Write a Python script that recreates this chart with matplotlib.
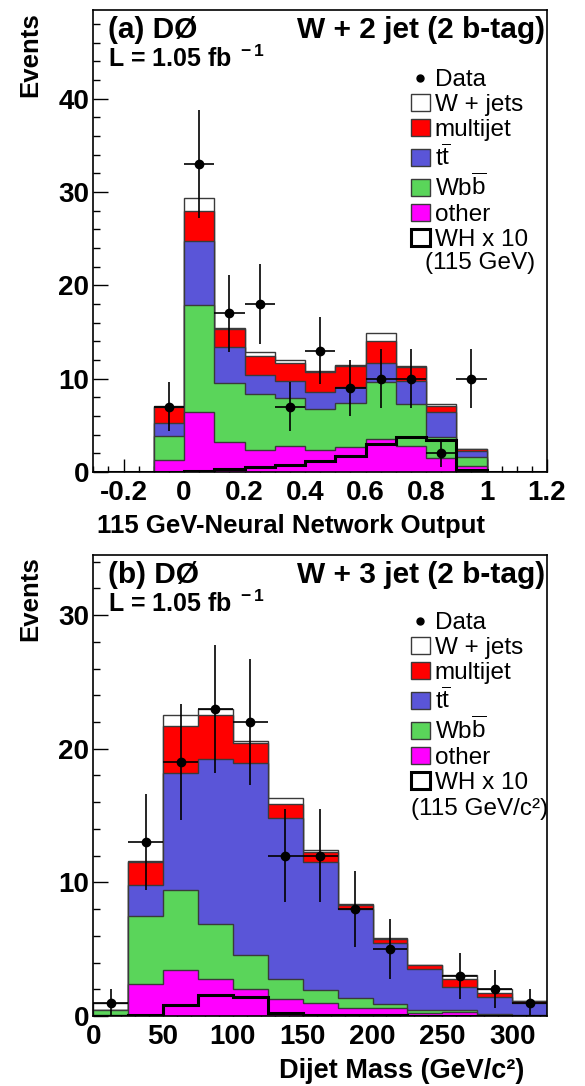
import numpy as np
import matplotlib
matplotlib.use("Agg")
import matplotlib.pyplot as plt
from matplotlib.patches import Patch
from matplotlib.lines import Line2D
from matplotlib.ticker import MultipleLocator, AutoMinorLocator, FuncFormatter

plt.rcParams['font.family'] = ['Liberation Sans', 'DejaVu Sans']
plt.rcParams['axes.unicode_minus'] = False
plt.rcParams['mathtext.fontset'] = 'custom'
plt.rcParams['mathtext.rm'] = 'Liberation Sans'
plt.rcParams['mathtext.bf'] = 'Liberation Sans:bold'

# ---- (a) W + 2 jet, NN output ----
nn_edges = np.round(np.arange(-0.3, 1.21, 0.1), 2)
nn_other    = [0, 0, 1.3, 6.4, 3.25, 2.4, 2.8, 2.4, 2.7, 3.5, 2.8, 1.55, 0.6, 0, 0]
nn_wbb      = [0, 0, 2.6, 11.5, 6.25, 6.0, 5.1, 4.3, 4.65, 6.1, 4.5, 2.25, 1.05, 0, 0]
nn_ttbar    = [0, 0, 1.3, 6.9, 3.9, 2.0, 1.8, 1.9, 1.8, 2.05, 2.4, 2.6, 0.65, 0, 0]
nn_multijet = [0, 0, 1.8, 3.2, 1.9, 2.0, 1.95, 2.15, 2.25, 2.35, 1.6, 0.7, 0.15, 0, 0]
nn_wjets    = [0, 0, 0.05, 1.4, 0.1, 0.5, 0.35, 0.1, 0.1, 0.85, 0.1, 0.2, 0.05, 0, 0]
nn_wh10     = [0, 0, 0.05, 0.15, 0.3, 0.5, 0.75, 1.15, 1.7, 3.0, 3.7, 3.4, 0.2, 0, 0]
nn_data     = [0, 0, 7, 33, 17, 18, 7, 13, 9, 10, 10, 2, 10, 0, 0]

# ---- (b) W + 3 jet, dijet mass ----
mjj_edges = np.arange(0, 326, 25)
mjj_other    = [0.05, 2.4, 3.45, 2.8, 2.05, 1.25, 0.95, 0.57, 0.62, 0.2, 0.27, 0.05, 0.02]
mjj_wbb      = [0.4, 5.1, 5.95, 4.05, 2.55, 1.55, 1.0, 0.8, 0.25, 0.25, 0.18, 0.07, 0.04]
mjj_ttbar    = [0.0, 2.3, 8.75, 12.35, 14.37, 12.05, 9.55, 6.63, 4.63, 3.05, 1.75, 1.33, 0.89]
mjj_multijet = [0.0, 1.75, 3.55, 3.3, 1.48, 1.05, 0.75, 0.3, 0.25, 0.3, 0.55, 0.3, 0.15]
mjj_wjets    = [0.55, 0.05, 0.8, 0.5, 0.15, 0.4, 0.15, 0.05, 0.05, 0.02, 0.32, 0.25, 0.02]
mjj_wh10     = [0.02, 0.05, 0.8, 1.6, 1.4, 0.25, 0.1, 0.05, 0.05, 0.03, 0.02, 0.02, 0.02]
mjj_data     = [1, 13, 19, 23, 22, 12, 12, 8, 5, 0, 3, 2, 1]

colors = ['#ff00ff', '#5ad55a', '#5a55d8', '#ff0000', '#ffffff']
labels = ['Data', 'W + jets', 'multijet', r't$\overline{\mathrm{t}}$',
          r'Wb$\overline{\mathrm{b}}$', 'other', 'WH x 10']

W, H = 585, 1086
fig = plt.figure(figsize=(W / 100, H / 100), dpi=100)


def px(x, y):
    return x / W, 1 - y / H


def draw_panel(ax, edges, comps, wh, data):
    # stacked: other, wbb, ttbar, multijet, wjets
    cum = np.cumsum(np.array(comps, dtype=float), axis=0)
    for i in range(len(comps) - 1, -1, -1):
        ax.stairs(cum[i], edges, baseline=0, fill=True, facecolor=colors[i],
                  edgecolor='#3a3a3a', linewidth=1.0, zorder=2)
    ax.stairs(wh, edges, baseline=None, color='black', linewidth=2.2, zorder=3)
    centers = 0.5 * (edges[1:] + edges[:-1])
    half = 0.5 * (edges[1] - edges[0])
    d = np.array(data, dtype=float)
    m = d > 0
    ax.errorbar(centers[m], d[m], yerr=np.sqrt(d[m]), xerr=half, fmt='o',
                color='black', ms=6, elinewidth=1.2, capsize=0, zorder=4)
    for s in ax.spines.values():
        s.set_linewidth(1.2)
    ax.tick_params(which='both', direction='in', top=False, right=False,
                   labelsize=20, width=1.0, pad=3)
    ax.tick_params(axis='y', which='major', length=11)
    ax.tick_params(axis='y', which='minor', length=5)
    ax.tick_params(axis='x', which='major', length=9.5, pad=6)
    ax.tick_params(axis='x', which='minor', length=4.5)
    ax.yaxis.set_major_locator(MultipleLocator(10))
    ax.yaxis.set_minor_locator(AutoMinorLocator(5))


def add_legend(ax, y_top, note, note_y):
    handles = [Line2D([], [], marker='o', ls='none', color='black', ms=5)]
    for c in ['#ffffff', '#ff0000', '#5a55d8', '#5ad55a', '#ff00ff']:
        handles.append(Patch(facecolor=c, edgecolor='#3a3a3a', linewidth=1.0))
    handles.append(Patch(facecolor='white', edgecolor='black', linewidth=2.2))
    ax.legend(handles, labels, loc='upper left', bbox_to_anchor=px(411, y_top),
              bbox_transform=fig.transFigure, frameon=False, borderpad=0,
              borderaxespad=0, handlelength=0.78, handleheight=0.7,
              handletextpad=0.2, labelspacing=0.13, fontsize=17.5)
    fig.text(*px(480, note_y), note, ha='center', va='center', fontsize=17.5)


# ---------- panel (a) ----------
ax1 = fig.add_axes([93.3 / W, 1 - 472 / H, (547 - 93.3) / W, (472 - 10) / H])
draw_panel(ax1, nn_edges, [nn_other, nn_wbb, nn_ttbar, nn_multijet, nn_wjets],
           nn_wh10, nn_data)
ax1.set_xlim(-0.3, 1.2)
ax1.set_ylim(0, 49.5)
ax1.xaxis.set_major_locator(MultipleLocator(0.2))
ax1.xaxis.set_minor_locator(AutoMinorLocator(4))
ax1.xaxis.set_major_formatter(FuncFormatter(lambda v, p: '%g' % round(v, 2)))
for lab in ax1.get_xticklabels() + ax1.get_yticklabels():
    lab.set_fontweight('bold')
add_legend(ax1, 69, '(115 GeV)', 263)

fig.text(*px(108, 38), '(a) DØ', fontsize=21.5, fontweight='bold', va='baseline')
fig.text(*px(545, 38), 'W + 2 jet (2 b-tag)', fontsize=21.5, fontweight='bold',
         va='baseline', ha='right')
fig.text(*px(108, 67), r'L = 1.05 fb$^{\mathbf{\ -1}}$', fontsize=18,
         fontweight='bold', va='baseline')
fig.text(*px(30, 12), 'Events', rotation=90, fontsize=18.5, fontweight='bold',
         ha='center', va='top')
fig.text(*px(291, 526), '115 GeV-Neural Network Output', fontsize=18.5,
         fontweight='bold', ha='center', va='center')

# ---------- panel (b) ----------
ax2 = fig.add_axes([93.3 / W, 1 - 1016 / H, (547 - 93.3) / W, (1016 - 555) / H])
draw_panel(ax2, mjj_edges, [mjj_other, mjj_wbb, mjj_ttbar, mjj_multijet, mjj_wjets],
           mjj_wh10, mjj_data)
ax2.set_xlim(0, 325)
ax2.set_ylim(0, 34.5)
ax2.xaxis.set_major_locator(MultipleLocator(50))
ax2.xaxis.set_minor_locator(AutoMinorLocator(5))
for lab in ax2.get_xticklabels() + ax2.get_yticklabels():
    lab.set_fontweight('bold')
add_legend(ax2, 612, '(115 GeV/c²)', 809)

fig.text(*px(108, 583), '(b) DØ', fontsize=21.5, fontweight='bold', va='baseline')
fig.text(*px(545, 583), 'W + 3 jet (2 b-tag)', fontsize=21.5, fontweight='bold',
         va='baseline', ha='right')
fig.text(*px(108, 612), r'L = 1.05 fb$^{\mathbf{\ -1}}$', fontsize=18,
         fontweight='bold', va='baseline')
fig.text(*px(30, 556), 'Events', rotation=90, fontsize=18.5, fontweight='bold',
         ha='center', va='top')
fig.text(*px(402, 1071), 'Dijet Mass (GeV/c²)', fontsize=19.5,
         fontweight='bold', ha='center', va='center')

fig.savefig('out.png', dpi=100)
